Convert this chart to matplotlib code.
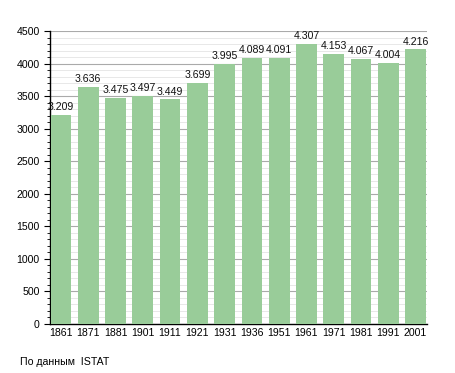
import matplotlib
matplotlib.use("Agg")
import matplotlib.pyplot as plt
from matplotlib.ticker import MultipleLocator

anni = ["1861", "1871", "1881", "1901", "1911", "1921", "1931",
        "1936", "1951", "1961", "1971", "1981", "1991", "2001"]
abitanti = [3209, 3636, 3475, 3497, 3449, 3699, 3995,
            4089, 4091, 4307, 4153, 4067, 4004, 4216]

plt.rcParams["font.family"] = ["Liberation Sans", "DejaVu Sans"]

fig = plt.figure(figsize=(4.55, 3.73), dpi=100)
ax = fig.add_axes([50 / 455, 1 - 324 / 373, 377 / 455, 293 / 373])

x = range(len(anni))
ax.bar(x, abitanti, width=0.76, color="#99cc99", zorder=3)

for xi, v in zip(x, abitanti):
    etichetta = f"{v:,}".replace(",", ".")
    ax.text(xi, v + 45, etichetta, ha="center", va="bottom", fontsize=7.6,
            color="#111111", zorder=4)

ax.set_xlim(-0.4, 13.42)
ax.set_ylim(0, 4500)
ax.set_xticks(list(x))
ax.set_xticklabels(anni, fontsize=7.6)
ax.yaxis.set_major_locator(MultipleLocator(500))
ax.yaxis.set_minor_locator(MultipleLocator(100))
ax.tick_params(axis="y", labelsize=7.6, length=4, width=0.8)
ax.tick_params(axis="y", which="minor", length=2, width=0.6)
ax.tick_params(axis="x", length=0, pad=3)

ax.grid(True, axis="y", which="major", color="#aaaaaa", linewidth=0.8, zorder=0)
ax.grid(True, axis="y", which="minor", color="#e4e4e4", linewidth=0.6, zorder=0)

for lato in ("top", "right"):
    ax.spines[lato].set_visible(False)
ax.spines["left"].set_linewidth(1.0)
ax.spines["bottom"].set_linewidth(1.0)

fig.text(20 / 455, 1 - 362 / 373, "По данным  ISTAT", fontsize=7.6,
         va="center", ha="left")

fig.savefig("out.png", dpi=100)
